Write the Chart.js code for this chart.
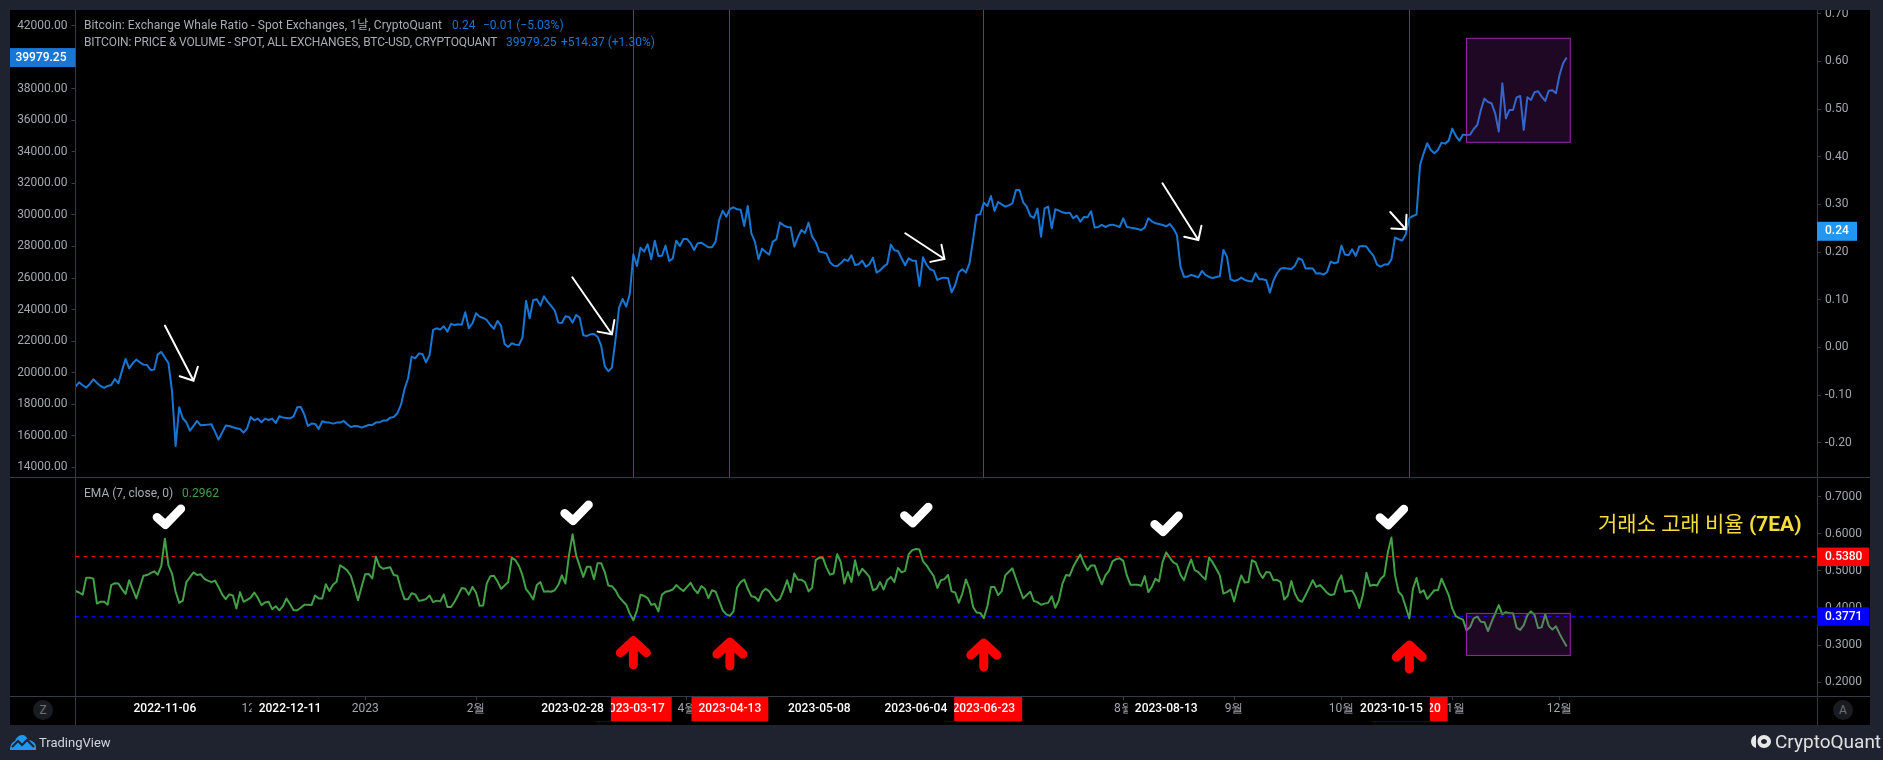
<!DOCTYPE html>
<html lang="ko">
<head>
<meta charset="utf-8">
<title>Exchange Whale Ratio</title>
<script src="https://cdn.jsdelivr.net/npm/chart.js@4"></script>
<style>
    html, body { margin: 0; height: 760px; background: #1f2330; overflow: hidden; font-family: Roboto, "Noto Sans CJK KR", sans-serif; }
    canvas { position: absolute; left: 10px; background: #000; }
    #priceChart { top: 10px; }
    #emaChart { top: 477px; }
    .txt { position: absolute; white-space: pre; font-size: 12px; line-height: 14px; color: #a9acb5; }
    .blue { color: #1976d2; }
    .green { color: #43a047; }
    .yellow { color: #f5dc3c; font-size: 21px; line-height: 26px; }
    .yellow b { font-weight: 700; }
    .zbtn { position: absolute; top: 700px; width: 20px; height: 20px; border-radius: 10px; background: #1a1c22; color: #6d7078; font-size: 12px; line-height: 20px; text-align: center; }
    svg { position: absolute; }
</style>
</head>
<body>
<canvas id="priceChart" width="1860" height="467"></canvas>
<canvas id="emaChart" width="1860" height="248"></canvas>

<div class="txt" style="left:84px;top:18px;letter-spacing:0.1px">Bitcoin: Exchange Whale Ratio - Spot Exchanges, 1날, CryptoQuant</div>
<div class="txt blue" style="left:452px;top:18px">0.24</div>
<div class="txt blue" style="left:483px;top:18px">−0.01 (−5.03%)</div>
<div class="txt" style="left:84px;top:35px;letter-spacing:-0.15px">BITCOIN: PRICE &amp; VOLUME - SPOT, ALL EXCHANGES, BTC-USD, CRYPTOQUANT</div>
<div class="txt blue" style="left:506px;top:35px">39979.25</div>
<div class="txt blue" style="left:561px;top:35px">+514.37 (+1.30%)</div>
<div class="txt" style="left:84px;top:486px">EMA (7, close, 0)</div>
<div class="txt green" style="left:182px;top:486px">0.2962</div>
<div class="txt yellow" style="left:1598px;top:511px">거래소 고래 비율 <b>(7EA)</b></div>

<div class="zbtn" style="left:33px">Z</div>
<div class="zbtn" style="left:1833px">A</div>

<svg style="left:10px;top:735px" width="26" height="15" viewBox="0 0 26 15">
    <path d="M0 15 C0 10 2 7 5 6 C6 3 9 0 12 0 C15 0 17 2 18 5 C22 5 26 8 26 12 L26 15 Z" fill="#2196f3"/>
    <path d="M2 12 L8 6 L12 10 L17 5 L24 12" fill="none" stroke="#1f2330" stroke-width="2"/>
</svg>
<div class="txt" style="left:39px;top:734px;font-size:13px;line-height:18px;color:#d1d4dc">TradingView</div>
<svg style="left:1751px;top:735px" width="20" height="13" viewBox="0 0 20 13">
    <path d="M5 0 C2 1 0 3 0 6.5 C0 10 2 12 5 13 Z" fill="#e8e8e8"/>
    <path d="M13 0 C9 0 6.500 3 6.500 6.500 C6.500 10 9 13 13 13 C17 13 20 10 20 6.500 C20 3 17 0 13 0 Z M13 4 C14.500 4 16 5 16 6.500 C16 8 14.500 9 13 9 C11.500 9 10 8 10 6.500 C10 5 11.500 4 13 4 Z" fill="#e8e8e8" fill-rule="evenodd"/>
</svg>
<div class="txt" style="left:1775px;top:731px;font-size:19px;line-height:22px;color:#e0e0e0">CryptoQuant</div>

<script>
// daily closes starting 2022-10-12
const btcPrice = [
    19115, 19390, 19200, 19050, 19284, 19580, 19347, 19157, 19030, 19157,
    19221, 19601, 19326, 20129, 20869, 20277, 20594, 20826, 20657, 20510,
    20489, 20172, 20193, 21165, 21313, 20953, 20594, 18798, 15354, 17805,
    17108, 16854, 16326, 16622, 16939, 16664, 16685, 16706, 16727, 16262,
    15755, 16199, 16643, 16622, 16537, 16474, 16432, 16199, 16474, 17192,
    16981, 17087, 16854, 17087, 17002, 17087, 16812, 17234, 17150, 17129,
    17108, 17234, 17805, 17826, 17340, 16622, 16770, 16749, 16432, 16917,
    16854, 16833, 16770, 16833, 16833, 16939, 16727, 16558, 16622, 16601,
    16516, 16601, 16685, 16685, 16833, 16854, 16960, 16960, 17150, 17192,
    17425, 17953, 18946, 19645, 21018, 20912, 21208, 21187, 20659, 21102,
    22708, 22814, 22730, 22941, 22603, 23089, 23025, 23067, 23046, 23828,
    22814, 23131, 23765, 23553, 23469, 23342, 23025, 22772, 23279, 22962,
    21821, 21631, 21863, 21778, 21757, 22222, 24547, 23448, 24610, 24652,
    24251, 24842, 24504, 24230, 23955, 23173, 23152, 23575, 23532, 23173,
    23659, 23490, 22370, 22328, 22434, 22455, 22265, 21715, 20405, 20088,
    20321, 22074, 24124, 24673, 24187, 24990, 27505, 26765, 27927, 27674,
    28139, 27188, 28371, 27399, 27420, 28054, 27082, 27230, 28371, 28033,
    28477, 28477, 28202, 27780, 28202, 28244, 28096, 27948, 27948, 28308,
    29681, 30273, 29892, 30378, 30484, 30358, 30337, 29301, 30569, 28837,
    28308, 27189, 27865, 27653, 27484, 28308, 28456, 29513, 29344, 29238,
    29217, 27991, 28583, 29048, 28858, 29513, 28625, 28287, 27674, 27632,
    27548, 27000, 26787, 26766, 26935, 27188, 27083, 27442, 26829, 26872,
    27104, 26724, 26872, 27294, 26343, 26491, 26724, 26893, 28118, 27758,
    27717, 27252, 26808, 27252, 27104, 27104, 25498, 27315, 26829, 26554,
    26470, 25878, 25984, 26026, 25984, 25096, 25561, 26364, 26554, 26343,
    26935, 28414, 29999, 30041, 30780, 30569, 31203, 30252, 30823, 30675,
    30527, 30611, 30738, 31583, 31583, 30802, 30527, 29935, 29808, 30400,
    28625, 30421, 30527, 29153, 30358, 30273, 30168, 30104, 30147, 29787,
    29956, 29576, 29872, 29851, 30231, 29196, 29238, 29365, 29238, 29344,
    29386, 29323, 29238, 29787, 29238, 29196, 29153, 29111, 29048, 29196,
    29787, 29597, 29470, 29428, 29365, 29280, 29428, 29153, 28731, 26724,
    26069, 26090, 26195, 26132, 26047, 26449, 26195, 26069, 26005, 26069,
    26111, 27780, 27358, 25921, 25815, 25878, 26028, 25880, 25816, 25774,
    26303, 25922, 25922, 25859, 25077, 25838, 26303, 26598, 26641, 26598,
    26577, 26788, 27253, 27147, 26598, 26620, 26598, 26281, 26303, 26218,
    26387, 27042, 26936, 27000, 28056, 27486, 27443, 27824, 27401, 27993,
    28035, 27993, 27676, 27401, 26831, 26725, 26852, 26852, 27190, 28563,
    28458, 28373, 28775, 29789, 29937, 30021, 33170, 33909, 34543, 34120,
    33909, 34120, 34585, 34522, 34712, 35473, 35008, 34712, 35093, 35071,
    35093, 35452, 35705, 36656, 37375, 37163, 37079, 36445, 35283, 38346,
    36128, 36656, 36656, 37459, 37544, 35388, 37459, 37290, 37776, 37840,
    37501, 37227, 37882, 37903, 37713, 38875, 39614, 39979.25
];

const emaRatio = [
    .446, .442, .436, .482, .482, .479, .412, .417, .417, .409,
    .462, .467, .466, .451, .438, .475, .451, .426, .456, .487,
    .489, .494, .499, .490, .514, .587, .515, .493, .444, .414,
    .420, .470, .483, .496, .489, .491, .479, .474, .470, .474,
    .457, .437, .424, .437, .434, .399, .443, .417, .422, .428,
    .442, .427, .408, .415, .417, .397, .405, .394, .405, .426,
    .410, .394, .394, .401, .409, .409, .408, .434, .426, .426,
    .464, .446, .463, .471, .515, .509, .501, .487, .455, .421,
    .457, .491, .492, .480, .538, .513, .506, .508, .510, .489,
    .487, .452, .424, .424, .440, .437, .420, .421, .424, .434,
    .416, .420, .418, .437, .403, .403, .417, .435, .454, .452,
    .436, .457, .442, .406, .407, .466, .486, .487, .472, .452,
    .461, .470, .536, .529, .514, .488, .451, .439, .423, .462,
    .470, .444, .445, .444, .448, .462, .488, .466, .542, .599,
    .542, .513, .484, .511, .511, .478, .521, .521, .497, .461,
    .459, .448, .430, .419, .409, .385, .367, .394, .436, .433,
    .427, .409, .411, .391, .436, .444, .446, .450, .462, .453,
    .446, .457, .468, .451, .440, .459, .452, .427, .448, .444,
    .419, .394, .383, .379, .391, .455, .470, .477, .452, .432,
    .430, .419, .443, .452, .445, .430, .419, .425, .448, .475,
    .443, .493, .476, .476, .470, .445, .455, .529, .536, .535,
    .509, .490, .493, .545, .524, .466, .497, .470, .529, .488,
    .506, .496, .484, .448, .452, .470, .450, .475, .484, .470,
    .508, .496, .500, .545, .556, .559, .558, .526, .515, .500,
    .486, .454, .475, .478, .489, .445, .442, .414, .439, .477,
    .452, .403, .388, .387, .373, .405, .457, .457, .435, .445,
    .488, .498, .507, .479, .452, .426, .435, .444, .419, .416,
    .409, .412, .414, .432, .401, .421, .466, .489, .487, .511,
    .529, .544, .520, .502, .515, .515, .488, .464, .488, .500,
    .526, .532, .534, .527, .488, .463, .463, .463, .460, .486,
    .443, .457, .479, .472, .524, .550, .536, .523, .518, .490,
    .475, .506, .531, .502, .497, .486, .477, .536, .523, .506,
    .488, .439, .443, .450, .418, .457, .488, .469, .470, .529,
    .523, .496, .481, .497, .496, .475, .476, .470, .423, .433,
    .473, .439, .421, .417, .435, .455, .475, .457, .462, .452,
    .441, .435, .437, .470, .488, .444, .446, .447, .430, .400,
    .435, .495, .460, .463, .461, .479, .488, .551, .590, .488,
    .444, .433, .403, .372, .452, .481, .441, .448, .425, .436,
    .448, .448, .479, .457, .435, .399, .378, .373, .369, .340,
    .349, .372, .377, .363, .362, .338, .363, .385, .408, .383,
    .389, .386, .386, .347, .341, .354, .381, .391, .382, .346,
    .348, .383, .352, .342, .351, .331, .313, .2962
];

const priceTicks = [14000, 16000, 18000, 20000, 22000, 24000, 26000, 28000, 30000, 32000, 34000, 36000, 38000, 40000, 42000];
const ratioTicks = [-0.2, -0.1, 0, 0.1, 0.2, 0.3, 0.4, 0.5, 0.6, 0.7];
const emaTicks = [0.2, 0.3, 0.4, 0.5, 0.6, 0.7];

const lastPrice = 39979.25;
const lastRatio = 0.2435;
const emaHigh = 0.538;
const emaLow = 0.3771;

// axis reaches 70 empty days past the last close
const firstDay = Date.UTC(2022, 9, 12);
const totalDays = 488;
const dayLabels = [];
for (let i = 0; i < totalDays; i++) {
    dayLabels.push(new Date(firstDay + i * 86400000).toISOString().slice(0, 10));
}

// bottom axis, later entries paint over earlier ones
const monthDays = ['2022-12-01', '2023-01-01', '2023-02-01', '2023-03-01', '2023-04-01', '2023-05-01', '2023-06-01', '2023-07-01', '2023-08-01', '2023-09-01', '2023-10-01', '2023-11-01', '2023-12-01'];
const monthNames = ['12월', '2023', '2월', '3월', '4월', '5월', '6월', '7월', '8월', '9월', '10월', '11월', '12월'];
const redDays = ['2023-03-17', '2023-04-13', '2023-06-23', '2023-10-20'];
const plainDays = ['2022-11-06', '2022-12-11', '2023-02-28', '2023-05-08', '2023-06-04', '2023-08-13', '2023-10-15'];
const xTickDays = [...monthDays, ...redDays, ...plainDays];

// annotations, each one pinned to a date and a scale value
const whiteArrows = [
    { day: '2022-11-14', price: 19493, dx: -28.5, dy: -55 },
    { day: '2023-03-11', price: 22435, dx: -39.6, dy: -57 },
    { day: '2023-06-12', price: 27208, dx: -39.2, dy: -25.7 },
    { day: '2023-08-22', price: 28413, dx: -35.9, dy: -56.7 },
    { day: '2023-10-19', price: 29092, dx: -15.5, dy: -17.3 }
];
const checkMarks = [
    { day: '2022-11-06', ema: 0.6084 },
    { day: '2023-02-28', ema: 0.6191 },
    { day: '2023-06-03', ema: 0.6129 },
    { day: '2023-08-12', ema: 0.5895 },
    { day: '2023-10-14', ema: 0.6075 }
];
const redArrows = [
    { day: '2023-03-17', ema: 0.3253 },
    { day: '2023-04-13', ema: 0.3218 },
    { day: '2023-06-23', ema: 0.3191 },
    { day: '2023-10-20', ema: 0.3137 }
];
const boxDays = ['2023-11-05', '2023-12-04'];
const priceBox = [34607, 41201];
const emaBox = [0.2725, 0.3857];

const axisFont = { family: 'Roboto', size: 12 };
const axisColor = '#a3a6af';
const frameColor = '#363a45';
const purpleFill = 'rgba(156, 39, 176, 0.2)';
const purpleLine = '#9c27b0';


function dayPixel(chart, day) {
    return chart.scales.x.getPixelForValue(dayLabels.indexOf(day));
}


function drawFrame(chart) {
    const { ctx, chartArea, width, height } = chart;
    ctx.save();
    ctx.strokeStyle = frameColor;
    ctx.lineWidth = 1;
    ctx.beginPath();
    [chartArea.left, chartArea.right].forEach(x => {
        ctx.moveTo(Math.floor(x) + 0.5, 0);
        ctx.lineTo(Math.floor(x) + 0.5, height);
    });
    if (chart.canvas.id === 'emaChart') {
        ctx.moveTo(0, 0.5);
        ctx.lineTo(width, 0.5);
        ctx.moveTo(0, Math.floor(chartArea.bottom) + 0.5);
        ctx.lineTo(width, Math.floor(chartArea.bottom) + 0.5);
    }
    ctx.stroke();
    ctx.restore();
}


function drawBox(chart, yScale, values) {
    const { ctx } = chart;
    const x1 = dayPixel(chart, boxDays[0]);
    const x2 = dayPixel(chart, boxDays[1]);
    const y1 = yScale.getPixelForValue(values[1]);
    const y2 = yScale.getPixelForValue(values[0]);
    ctx.save();
    ctx.fillStyle = purpleFill;
    ctx.fillRect(x1, y1, x2 - x1, y2 - y1);
    ctx.strokeStyle = purpleLine;
    ctx.lineWidth = 1;
    ctx.strokeRect(x1, y1, x2 - x1, y2 - y1);
    ctx.restore();
}


function drawValueTag(chart, text, y, x, w, h, color, textX, align) {
    const { ctx } = chart;
    ctx.save();
    ctx.fillStyle = color;
    ctx.fillRect(x, y - h / 2, w, h);
    ctx.fillStyle = '#fff';
    ctx.font = '500 12px Roboto';
    ctx.textAlign = align;
    ctx.textBaseline = 'middle';
    ctx.fillText(text, textX, y);
    ctx.restore();
}


const priceOverlay = {
    id: 'priceOverlay',
    beforeDatasetsDraw(chart) {
        const { ctx, chartArea } = chart;
        ctx.save();
        ctx.strokeStyle = '#ff0000';
        ctx.lineWidth = 1;
        ctx.beginPath();
        redDays.forEach(day => {
            const x = Math.floor(dayPixel(chart, day)) + 0.5;
            ctx.moveTo(x, chartArea.top);
            ctx.lineTo(x, chartArea.bottom);
        });
        ctx.stroke();
        ctx.restore();
    },
    afterDatasetsDraw(chart) {
        const { ctx, scales } = chart;
        drawBox(chart, scales.yPrice, priceBox);

        ctx.save();
        ctx.strokeStyle = '#fff';
        ctx.lineWidth = 2;
        ctx.lineCap = 'round';
        whiteArrows.forEach(a => {
            const x = dayPixel(chart, a.day);
            const y = scales.yPrice.getPixelForValue(a.price);
            const back = Math.atan2(a.dy, a.dx);
            ctx.beginPath();
            ctx.moveTo(x + a.dx, y + a.dy);
            ctx.lineTo(x, y);
            ctx.moveTo(x + 14.5 * Math.cos(back - 0.78), y + 14.5 * Math.sin(back - 0.78));
            ctx.lineTo(x, y);
            ctx.lineTo(x + 14.5 * Math.cos(back + 0.78), y + 14.5 * Math.sin(back + 0.78));
            ctx.stroke();
        });
        ctx.restore();
    },
    afterDraw(chart) {
        const { scales, chartArea } = chart;
        drawFrame(chart);
        drawValueTag(chart, lastPrice.toFixed(2), scales.yPrice.getPixelForValue(lastPrice), 0, chartArea.left, 19, '#1976d2', 56.5, 'right');
        drawValueTag(chart, lastRatio.toFixed(2), scales.yRatio.getPixelForValue(lastRatio), chartArea.right, 40, 19, '#2196f3', chartArea.right + 8, 'left');
    }
};


const emaOverlay = {
    id: 'emaOverlay',
    beforeDatasetsDraw(chart) {
        const { ctx, chartArea, scales } = chart;
        ctx.save();
        ctx.lineWidth = 1;
        ctx.setLineDash([4, 4]);
        [[emaHigh, '#ff0000'], [emaLow, '#0000ff']].forEach(([value, color]) => {
            const y = Math.floor(scales.y.getPixelForValue(value)) + 0.5;
            ctx.strokeStyle = color;
            ctx.beginPath();
            ctx.moveTo(chartArea.left, y);
            ctx.lineTo(chartArea.right, y);
            ctx.stroke();
        });
        ctx.restore();
    },
    afterDatasetsDraw(chart) {
        const { ctx, scales } = chart;
        drawBox(chart, scales.y, emaBox);

        ctx.save();
        ctx.lineJoin = 'round';
        ctx.lineCap = 'round';

        ctx.lineWidth = 8.5;
        ctx.strokeStyle = '#fff';
        checkMarks.forEach(c => {
            const x = dayPixel(chart, c.day);
            const y = scales.y.getPixelForValue(c.ema);
            ctx.beginPath();
            ctx.moveTo(x - 8, y - 13.5);
            ctx.lineTo(x + 0.5, y - 6);
            ctx.lineTo(x + 16, y - 22);
            ctx.stroke();
        });

        ctx.lineWidth = 9;
        ctx.strokeStyle = '#ff0000';
        redArrows.forEach(a => {
            const x = dayPixel(chart, a.day);
            const y = scales.y.getPixelForValue(a.ema);
            ctx.beginPath();
            ctx.moveTo(x - 13, y + 17);
            ctx.lineTo(x, y + 5);
            ctx.lineTo(x + 13, y + 17);
            ctx.moveTo(x, y + 6);
            ctx.lineTo(x, y + 29);
            ctx.stroke();
        });
        ctx.restore();
    },
    afterDraw(chart) {
        const { scales, chartArea } = chart;
        drawFrame(chart);
        drawValueTag(chart, emaHigh.toFixed(4), scales.y.getPixelForValue(emaHigh), chartArea.right, 52, 18.5, '#ff0000', chartArea.right + 8, 'left');
        drawValueTag(chart, emaLow.toFixed(4), scales.y.getPixelForValue(emaLow), chartArea.right, 52, 18.5, '#0000ff', chartArea.right + 8, 'left');
    }
};


// labels at the pane edges must not push the plot area inward
function clearScalePadding(scale) {
    scale.paddingTop = 0;
    scale.paddingBottom = 0;
    scale.paddingLeft = 0;
    scale.paddingRight = 0;
}


function valueAxis(position, min, max, tickValues, decimals, width) {
    return {
        position: position,
        min: min,
        max: max,
        border: { display: false },
        grid: { drawOnChartArea: false, drawTicks: true, tickLength: 4, color: frameColor },
        ticks: {
            font: axisFont,
            color: axisColor,
            padding: 4,
            autoSkip: false,
            maxRotation: 0,
            callback: value => value.toFixed(decimals)
        },
        afterBuildTicks: scale => {
            scale.ticks = tickValues.map(value => ({ value: value }));
        },
        afterFit: scale => {
            scale.width = width;
            clearScalePadding(scale);
        }
    };
}


function lineDataset(values, color, axisId) {
    return {
        data: values,
        borderColor: color,
        borderWidth: 2,
        pointRadius: 0,
        tension: 0,
        borderJoinStyle: 'round',
        yAxisID: axisId
    };
}


new Chart(document.getElementById('priceChart'), {
    type: 'line',
    data: {
        labels: dayLabels,
        datasets: [lineDataset(btcPrice, '#1976d2', 'yPrice')]
    },
    options: {
        responsive: false,
        animation: false,
        layout: { padding: 0 },
        plugins: { legend: { display: false }, tooltip: { enabled: false } },
        scales: {
            x: { display: false },
            yPrice: valueAxis('left', 13385, 42995, priceTicks, 2, 65.5),
            yRatio: valueAxis('right', -0.272, 0.7078, ratioTicks, 2, 53)
        }
    },
    plugins: [priceOverlay]
});


new Chart(document.getElementById('emaChart'), {
    type: 'line',
    data: {
        labels: dayLabels,
        datasets: [lineDataset(emaRatio, '#43a047', 'y')]
    },
    options: {
        responsive: false,
        animation: false,
        layout: { padding: 0 },
        plugins: { legend: { display: false }, tooltip: { enabled: false } },
        scales: {
            x: {
                border: { display: false },
                grid: {
                    drawOnChartArea: false,
                    tickLength: 4,
                    color: ctx => ctx.index >= monthDays.length ? '#fff' : frameColor
                },
                ticks: {
                    autoSkip: false,
                    maxRotation: 0,
                    minRotation: 0,
                    padding: 2,
                    font: ctx => ctx.index >= monthDays.length ? { family: 'Roboto', size: 12, weight: '500' } : axisFont,
                    color: ctx => ctx.index >= monthDays.length ? '#fff' : axisColor,
                    showLabelBackdrop: ctx => ctx.index >= monthDays.length,
                    backdropColor: ctx => redDays.includes(xTickDays[ctx.index]) ? '#ff0000' : '#000',
                    backdropPadding: { x: 7, y: 5 },
                    callback: (value, index) => index < monthDays.length ? monthNames[index] : xTickDays[index]
                },
                afterBuildTicks: scale => {
                    scale.ticks = xTickDays.map(day => ({ value: dayLabels.indexOf(day) }));
                },
                afterFit: scale => {
                    scale.height = 29;
                    clearScalePadding(scale);
                }
            },
            yBlank: {
                position: 'left',
                min: 0,
                max: 1,
                border: { display: false },
                grid: { display: false },
                ticks: { display: false },
                afterFit: scale => {
                    scale.width = 65.5;
                    clearScalePadding(scale);
                }
            },
            y: valueAxis('right', 0.1631, 0.7531, emaTicks, 4, 53)
        }
    },
    plugins: [emaOverlay]
});
</script>
</body>
</html>
